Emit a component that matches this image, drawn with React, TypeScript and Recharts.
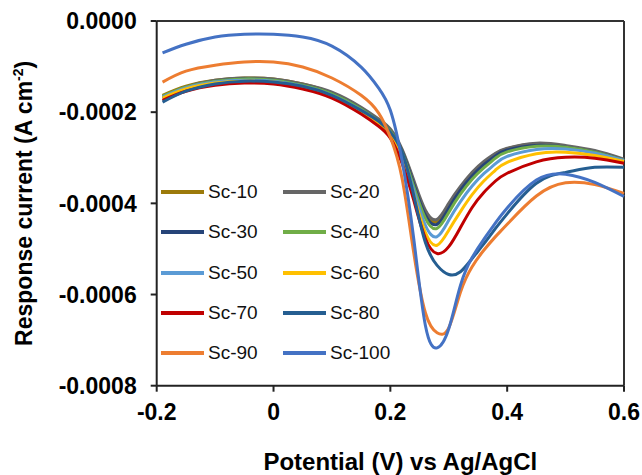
import { LineChart, Line, XAxis, YAxis, ReferenceLine } from 'recharts';

const potential = [-0.19, -0.15, -0.1, -0.05, 0, 0.05, 0.1, 0.15, 0.18, 0.2, 0.22, 0.24, 0.26, 0.28, 0.3, 0.32, 0.34, 0.36, 0.38, 0.4, 0.45, 0.5, 0.55, 0.6];

// response current, A cm-2
const sc10 = [-0.000163, -0.000143, -0.00013, -0.000125, -0.000127, -0.000138, -0.000158, -0.000191, -0.000218, -0.00024, -0.000284, -0.000354, -0.00042, -0.00044, -0.000404, -0.000367, -0.000336, -0.000311, -0.000292, -0.00028, -0.00027, -0.000275, -0.000286, -0.000306];
const sc20 = [-0.000167, -0.000145, -0.00013, -0.000125, -0.000127, -0.000138, -0.000156, -0.000189, -0.000215, -0.000237, -0.000281, -0.000349, -0.000415, -0.000435, -0.0004, -0.000363, -0.000332, -0.000308, -0.00029, -0.000279, -0.000268, -0.000273, -0.000284, -0.000303];
const sc30 = [-0.000169, -0.000147, -0.000132, -0.000127, -0.00013, -0.000141, -0.00016, -0.000193, -0.00022, -0.000242, -0.000286, -0.000358, -0.000426, -0.000446, -0.000411, -0.000371, -0.00034, -0.000315, -0.000296, -0.000283, -0.000273, -0.000277, -0.000288, -0.000306];
const sc40 = [-0.000165, -0.000145, -0.000132, -0.000127, -0.00013, -0.000141, -0.00016, -0.000193, -0.00022, -0.000242, -0.000288, -0.000363, -0.000433, -0.000455, -0.00042, -0.00038, -0.000347, -0.000322, -0.000301, -0.000287, -0.000275, -0.000277, -0.000288, -0.000306];
const sc50 = [-0.000167, -0.000147, -0.000134, -0.00013, -0.000132, -0.000143, -0.000163, -0.000196, -0.000222, -0.000246, -0.000295, -0.000371, -0.000448, -0.000473, -0.000437, -0.000396, -0.000362, -0.000335, -0.000313, -0.000297, -0.000282, -0.000281, -0.00029, -0.000306];
const sc60 = [-0.000169, -0.000149, -0.000136, -0.000132, -0.000134, -0.000145, -0.000165, -0.000198, -0.000224, -0.000251, -0.000301, -0.000382, -0.000464, -0.000492, -0.000459, -0.000418, -0.000381, -0.000351, -0.000327, -0.00031, -0.000291, -0.000288, -0.000295, -0.000308];
const sc70 = [-0.000174, -0.000154, -0.000141, -0.000136, -0.000138, -0.000149, -0.000169, -0.000204, -0.000231, -0.000257, -0.000312, -0.000393, -0.000477, -0.00051, -0.000495, -0.000453, -0.000409, -0.000376, -0.000351, -0.000334, -0.000309, -0.000299, -0.000301, -0.000312];
const sc80 = [-0.000178, -0.000154, -0.000138, -0.000132, -0.000134, -0.000143, -0.000163, -0.000196, -0.00022, -0.000244, -0.000288, -0.000382, -0.000486, -0.000536, -0.000556, -0.00055, -0.000521, -0.000489, -0.000455, -0.000423, -0.000356, -0.000332, -0.000321, -0.000321];
const sc90 = [-0.000134, -0.00011, -0.000097, -0.00009, -0.00009, -0.000101, -0.000125, -0.000163, -0.000202, -0.000255, -0.000345, -0.000508, -0.00064, -0.000684, -0.000673, -0.000595, -0.000539, -0.000503, -0.000473, -0.000446, -0.000384, -0.000355, -0.000359, -0.000378];
const sc100 = [-0.00007, -0.000051, -0.000035, -0.000029, -0.000029, -0.000035, -0.000055, -0.000101, -0.000147, -0.000196, -0.000306, -0.000477, -0.000668, -0.000717, -0.000675, -0.00058, -0.000519, -0.000479, -0.000443, -0.00041, -0.000349, -0.000336, -0.000354, -0.000385];

const xTicks = [-0.2, 0, 0.2, 0.4, 0.6];
const yTicks = [-0.0008, -0.0006, -0.0004, -0.0002, 0];

const series = [
  { key: 'sc10', name: 'Sc-10', color: '#9C7A0A', values: sc10 },
  { key: 'sc20', name: 'Sc-20', color: '#666666', values: sc20 },
  { key: 'sc30', name: 'Sc-30', color: '#264478', values: sc30 },
  { key: 'sc40', name: 'Sc-40', color: '#70AD47', values: sc40 },
  { key: 'sc50', name: 'Sc-50', color: '#5B9BD5', values: sc50 },
  { key: 'sc60', name: 'Sc-60', color: '#FFC000', values: sc60 },
  { key: 'sc70', name: 'Sc-70', color: '#C00000', values: sc70 },
  { key: 'sc80', name: 'Sc-80', color: '#255E91', values: sc80 },
  { key: 'sc90', name: 'Sc-90', color: '#ED7D31', values: sc90 },
  { key: 'sc100', name: 'Sc-100', color: '#4472C4', values: sc100 },
];

const data = potential.map((x, i) => {
  const row: Record<string, number> = { x };
  series.forEach((s) => (row[s.key] = s.values[i]));
  return row;
});

const FONT = '"Liberation Sans", Arial, sans-serif';
const W = 642;
const H = 475;

function YTitle({ viewBox }: any) {
  const cx = 32;
  const cy = viewBox.y + viewBox.height / 2;
  return (
    <text x={cx} y={cy} transform={`rotate(-90, ${cx}, ${cy})`} textAnchor="middle" fontFamily={FONT} fontWeight="bold" fontSize={23} fill="#000">
      Response current (A cm<tspan dy={-9} fontSize={14}>-2</tspan><tspan dy={9}>)</tspan>
    </text>
  );
}

function XTitle({ viewBox }: any) {
  return (
    <text x={viewBox.x + viewBox.width / 2 + 10} y={viewBox.y + 84} textAnchor="middle" fontFamily={FONT} fontWeight="bold" fontSize={24} fill="#000">
      Potential (V) vs Ag/AgCl
    </text>
  );
}

export default function App() {
  return (
    <div style={{ position: 'fixed', left: 0, top: 0, width: W, height: H, background: '#fff' }}>
      <LineChart width={W} height={H} data={data} margin={{ top: 21, right: 18, bottom: 0, left: 0 }}>
        <XAxis
          type="number"
          dataKey="x"
          domain={[-0.2, 0.6]}
          ticks={xTicks}
          tickFormatter={(v: number) => (Math.abs(v) < 1e-9 ? '0' : v.toFixed(1))}
          height={89.3}
          tickSize={6}
          tickMargin={12}
          axisLine={{ stroke: '#222', strokeWidth: 2 }}
          tickLine={{ stroke: '#222', strokeWidth: 2 }}
          tick={{ fill: '#000', fontSize: 23, fontWeight: 'bold', fontFamily: FONT }}
          label={<XTitle />}
        />
        <YAxis
          type="number"
          domain={[-0.0008, 0]}
          ticks={yTicks}
          tickFormatter={(v: number) => v.toFixed(4)}
          width={156.7}
          tickSize={6}
          tickMargin={14}
          axisLine={{ stroke: '#222', strokeWidth: 2 }}
          tickLine={{ stroke: '#222', strokeWidth: 2 }}
          tick={{ fill: '#000', fontSize: 23, fontWeight: 'bold', fontFamily: FONT }}
          label={<YTitle />}
        />
        <ReferenceLine y={0} stroke="#333" strokeWidth={2} />
        <ReferenceLine x={0.6} stroke="#333" strokeWidth={2} />
        {series.map((s) => (
          <Line
            key={s.key}
            type="natural"
            dataKey={s.key}
            name={s.name}
            stroke={s.color}
            strokeWidth={3}
            dot={false}
            isAnimationActive={false}
          />
        ))}
      </LineChart>
      <div
        style={{
          position: 'absolute',
          left: 161,
          top: 172,
          display: 'grid',
          gridTemplateColumns: '122px 122px',
          gridAutoRows: '40.3px',
          fontFamily: FONT,
          fontSize: 19,
          color: '#111',
        }}
      >
        {series.map((s) => (
          <div key={s.key} style={{ display: 'flex', alignItems: 'center' }}>
            <span style={{ display: 'inline-block', width: 43, height: 4, background: s.color, marginRight: 4 }} />
            <span>{s.name}</span>
          </div>
        ))}
      </div>
    </div>
  );
}
